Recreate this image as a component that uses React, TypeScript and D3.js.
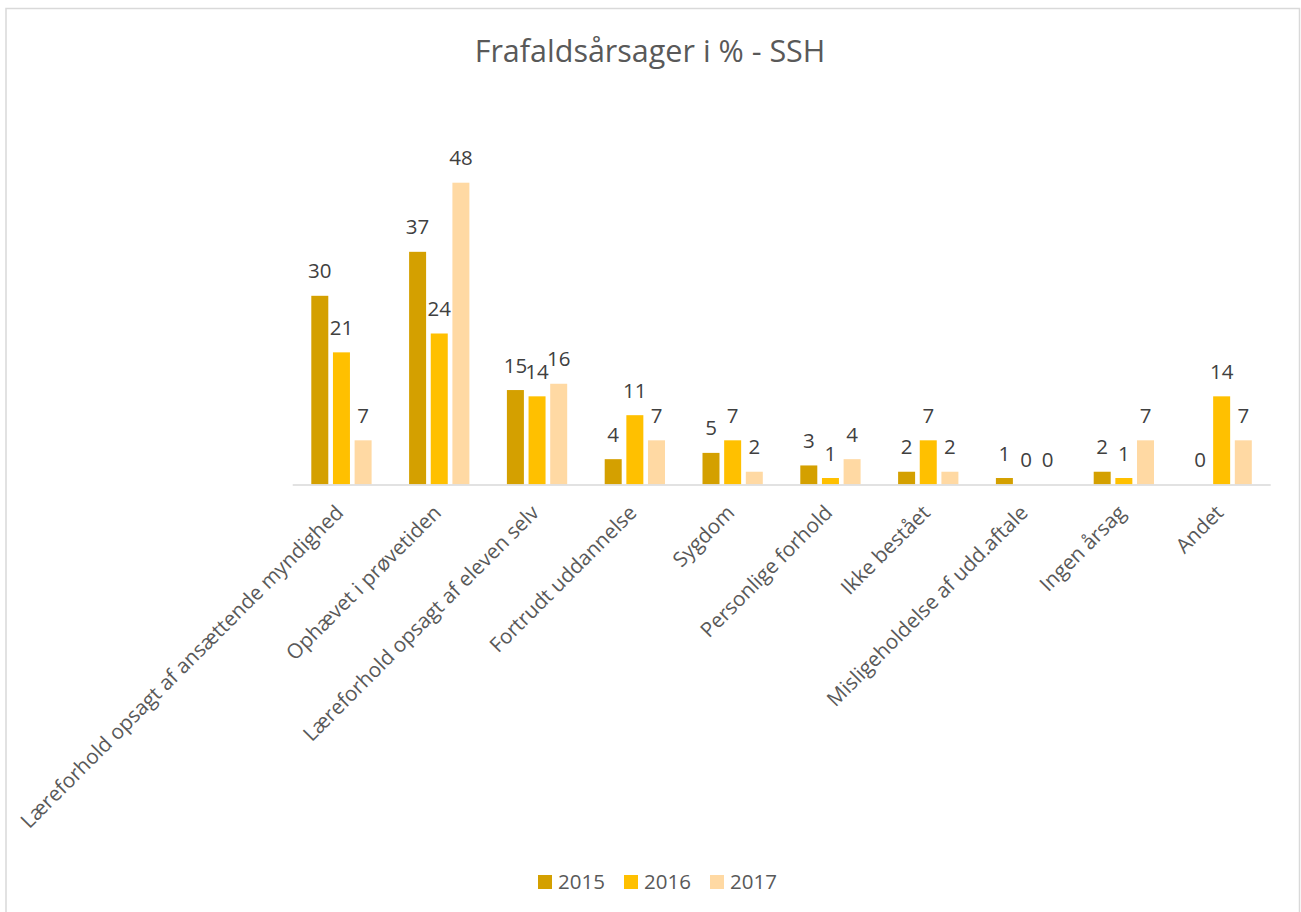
import React from "react";
import * as d3 from "d3";

const categories = [
  "Læreforhold opsagt af ansættende myndighed",
  "Ophævet i prøvetiden",
  "Læreforhold opsagt af eleven selv",
  "Fortrudt uddannelse",
  "Sygdom",
  "Personlige forhold",
  "Ikke bestået",
  "Misligeholdelse af udd.aftale",
  "Ingen årsag",
  "Andet",
];
const seriesNames = ["2015", "2016", "2017"];
const values2015 = [30, 37, 15, 4, 5, 3, 2, 1, 2, 0];
const values2016 = [21, 24, 14, 11, 7, 1, 7, 0, 1, 14];
const values2017 = [7, 48, 16, 7, 2, 4, 2, 0, 7, 7];
const colors = ["#d4a000", "#ffc000", "#ffd9a3"];
const title = "Frafaldsårsager i % - SSH";

const W = 1301;
const H = 912;
const FONT = "'Open Sans', 'Segoe UI', sans-serif";

export default function App() {
  const series = [values2015, values2016, values2017];
  const x = d3.scaleBand<string>().domain(categories).range([292.7, 1270.7]).padding(0);
  const xi = d3.scaleBand<string>().domain(seriesNames).range([-30.3, 30]).paddingInner(0.215).paddingOuter(0);
  const y = d3.scaleLinear().domain([0, 48]).range([484.3, 182.7]);
  const bw = x.bandwidth();

  return (
    <svg width={W} height={H} style={{ position: "absolute", left: 0, top: 0, background: "#fff" }} fontFamily={FONT}>
      <rect x={6} y={8.5} width={1293.5} height={920} fill="#fff" stroke="#d9d9d9" strokeWidth={1.5} />
      <text x={650} y={62} textAnchor="middle" fontSize={30.5} fill="#595959">{title}</text>

      {series.map((vals, si) => (
        <g key={seriesNames[si]}>
          {vals.map((v, ci) => {
            const cx = (x(categories[ci]) as number) + bw / 2;
            const bx = cx + (xi(seriesNames[si]) as number);
            return (
              <rect key={ci} x={bx} y={y(v)} width={xi.bandwidth()} height={y(0) - y(v)} fill={colors[si]} />
            );
          })}
        </g>
      ))}

      <line x1={292.7} x2={1270.7} y1={485} y2={485} stroke="#d9d9d9" strokeWidth={1.5} />

      {series.map((vals, si) => (
        <g key={"l" + seriesNames[si]}>
          {vals.map((v, ci) => {
            const cx = (x(categories[ci]) as number) + bw / 2;
            const lx = cx + (xi(seriesNames[si]) as number) + xi.bandwidth() / 2;
            return (
              <text key={ci} x={lx} y={y(v) - 17.5} textAnchor="middle" fontSize={20.5} fill="#404040">{v}</text>
            );
          })}
        </g>
      ))}

      {categories.map((c) => {
        const cx = (x(c) as number) + bw / 2;
        return (
          <text key={c} transform={`translate(${cx + 3},${514}) rotate(-45)`} textAnchor="end" fontSize={20.6} fill="#595959">{c}</text>
        );
      })}

      {seriesNames.map((s, i) => (
        <g key={"lg" + s} transform={`translate(${538 + i * 86},0)`}>
          <rect x={0} y={875} width={14} height={14} fill={colors[i]} />
          <text x={20} y={889} fontSize={20.5} fill="#595959">{s}</text>
        </g>
      ))}
    </svg>
  );
}
